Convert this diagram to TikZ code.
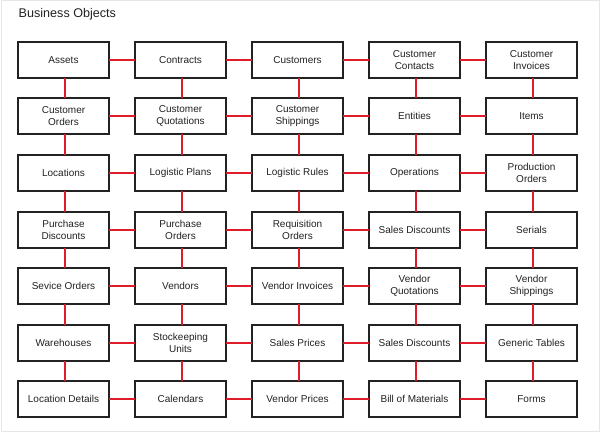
\documentclass[tikz,border=0pt]{standalone}
\usepackage{fontspec}
\setmainfont{Liberation Sans}
\definecolor{linkred}{RGB}{222,28,42}
\definecolor{boxline}{RGB}{34,34,34}
\definecolor{framegray}{RGB}{230,230,230}
\begin{document}
\begin{tikzpicture}[x=1pt,y=-1pt,
  obj/.style={draw=boxline,line width=1.6pt,fill=white,minimum width=91pt,minimum height=36pt,
    inner sep=0pt,outer sep=0pt,align=center,font=\fontsize{10}{11.5}\selectfont,text=boxline},
  link/.style={draw=linkred,line width=1.6pt}]
\useasboundingbox (0,0) rectangle (600,433);
\draw[framegray,line width=1pt] (1,1) rectangle (599,431.5);
\node[anchor=base west,font=\fontsize{12.6}{14}\selectfont,text=boxline,inner sep=0pt] (title) at (18.5,17.7) {Business Objects};
\foreach \r/\top/\rowtxt in {0/42/{{Assets},{Contracts},{Customers},{Customer\\Contacts},{Customer\\Invoices}},
1/98/{{Customer\\Orders},{Customer\\Quotations},{Customer\\Shippings},{Entities},{Items}},
2/155/{{Locations},{Logistic Plans},{Logistic Rules},{Operations},{Production\\Orders}},
3/212/{{Purchase\\Discounts},{Purchase\\Orders},{Requisition\\Orders},{Sales Discounts},{Serials}},
4/268/{{Sevice Orders},{Vendors},{Vendor Invoices},{Vendor\\Quotations},{Vendor\\Shippings}},
5/325/{{Warehouses},{Stockeeping\\Units},{Sales Prices},{Sales Discounts},{Generic Tables}},
6/381/{{Location Details},{Calendars},{Vendor Prices},{Bill of Materials},{Forms}}}{
  \foreach \t [count=\c from 0] in \rowtxt {
    \node[obj] (n\r\c) at ({18+117*\c+45.5},{\top+18}) {\t};
  }
}
\foreach \r in {0,...,6}{
  \foreach \c [evaluate=\c as \cn using int(\c+1)] in {0,...,3}{
    \draw[link] (n\r\c.east) -- (n\r\cn.west);
  }
}
\foreach \r [evaluate=\r as \rn using int(\r+1)] in {0,...,5}{
  \foreach \c in {0,...,4}{
    \draw[link] ([xshift=1.5pt]n\r\c.south) -- ([xshift=1.5pt]n\rn\c.north);
  }
}
\end{tikzpicture}
\end{document}
